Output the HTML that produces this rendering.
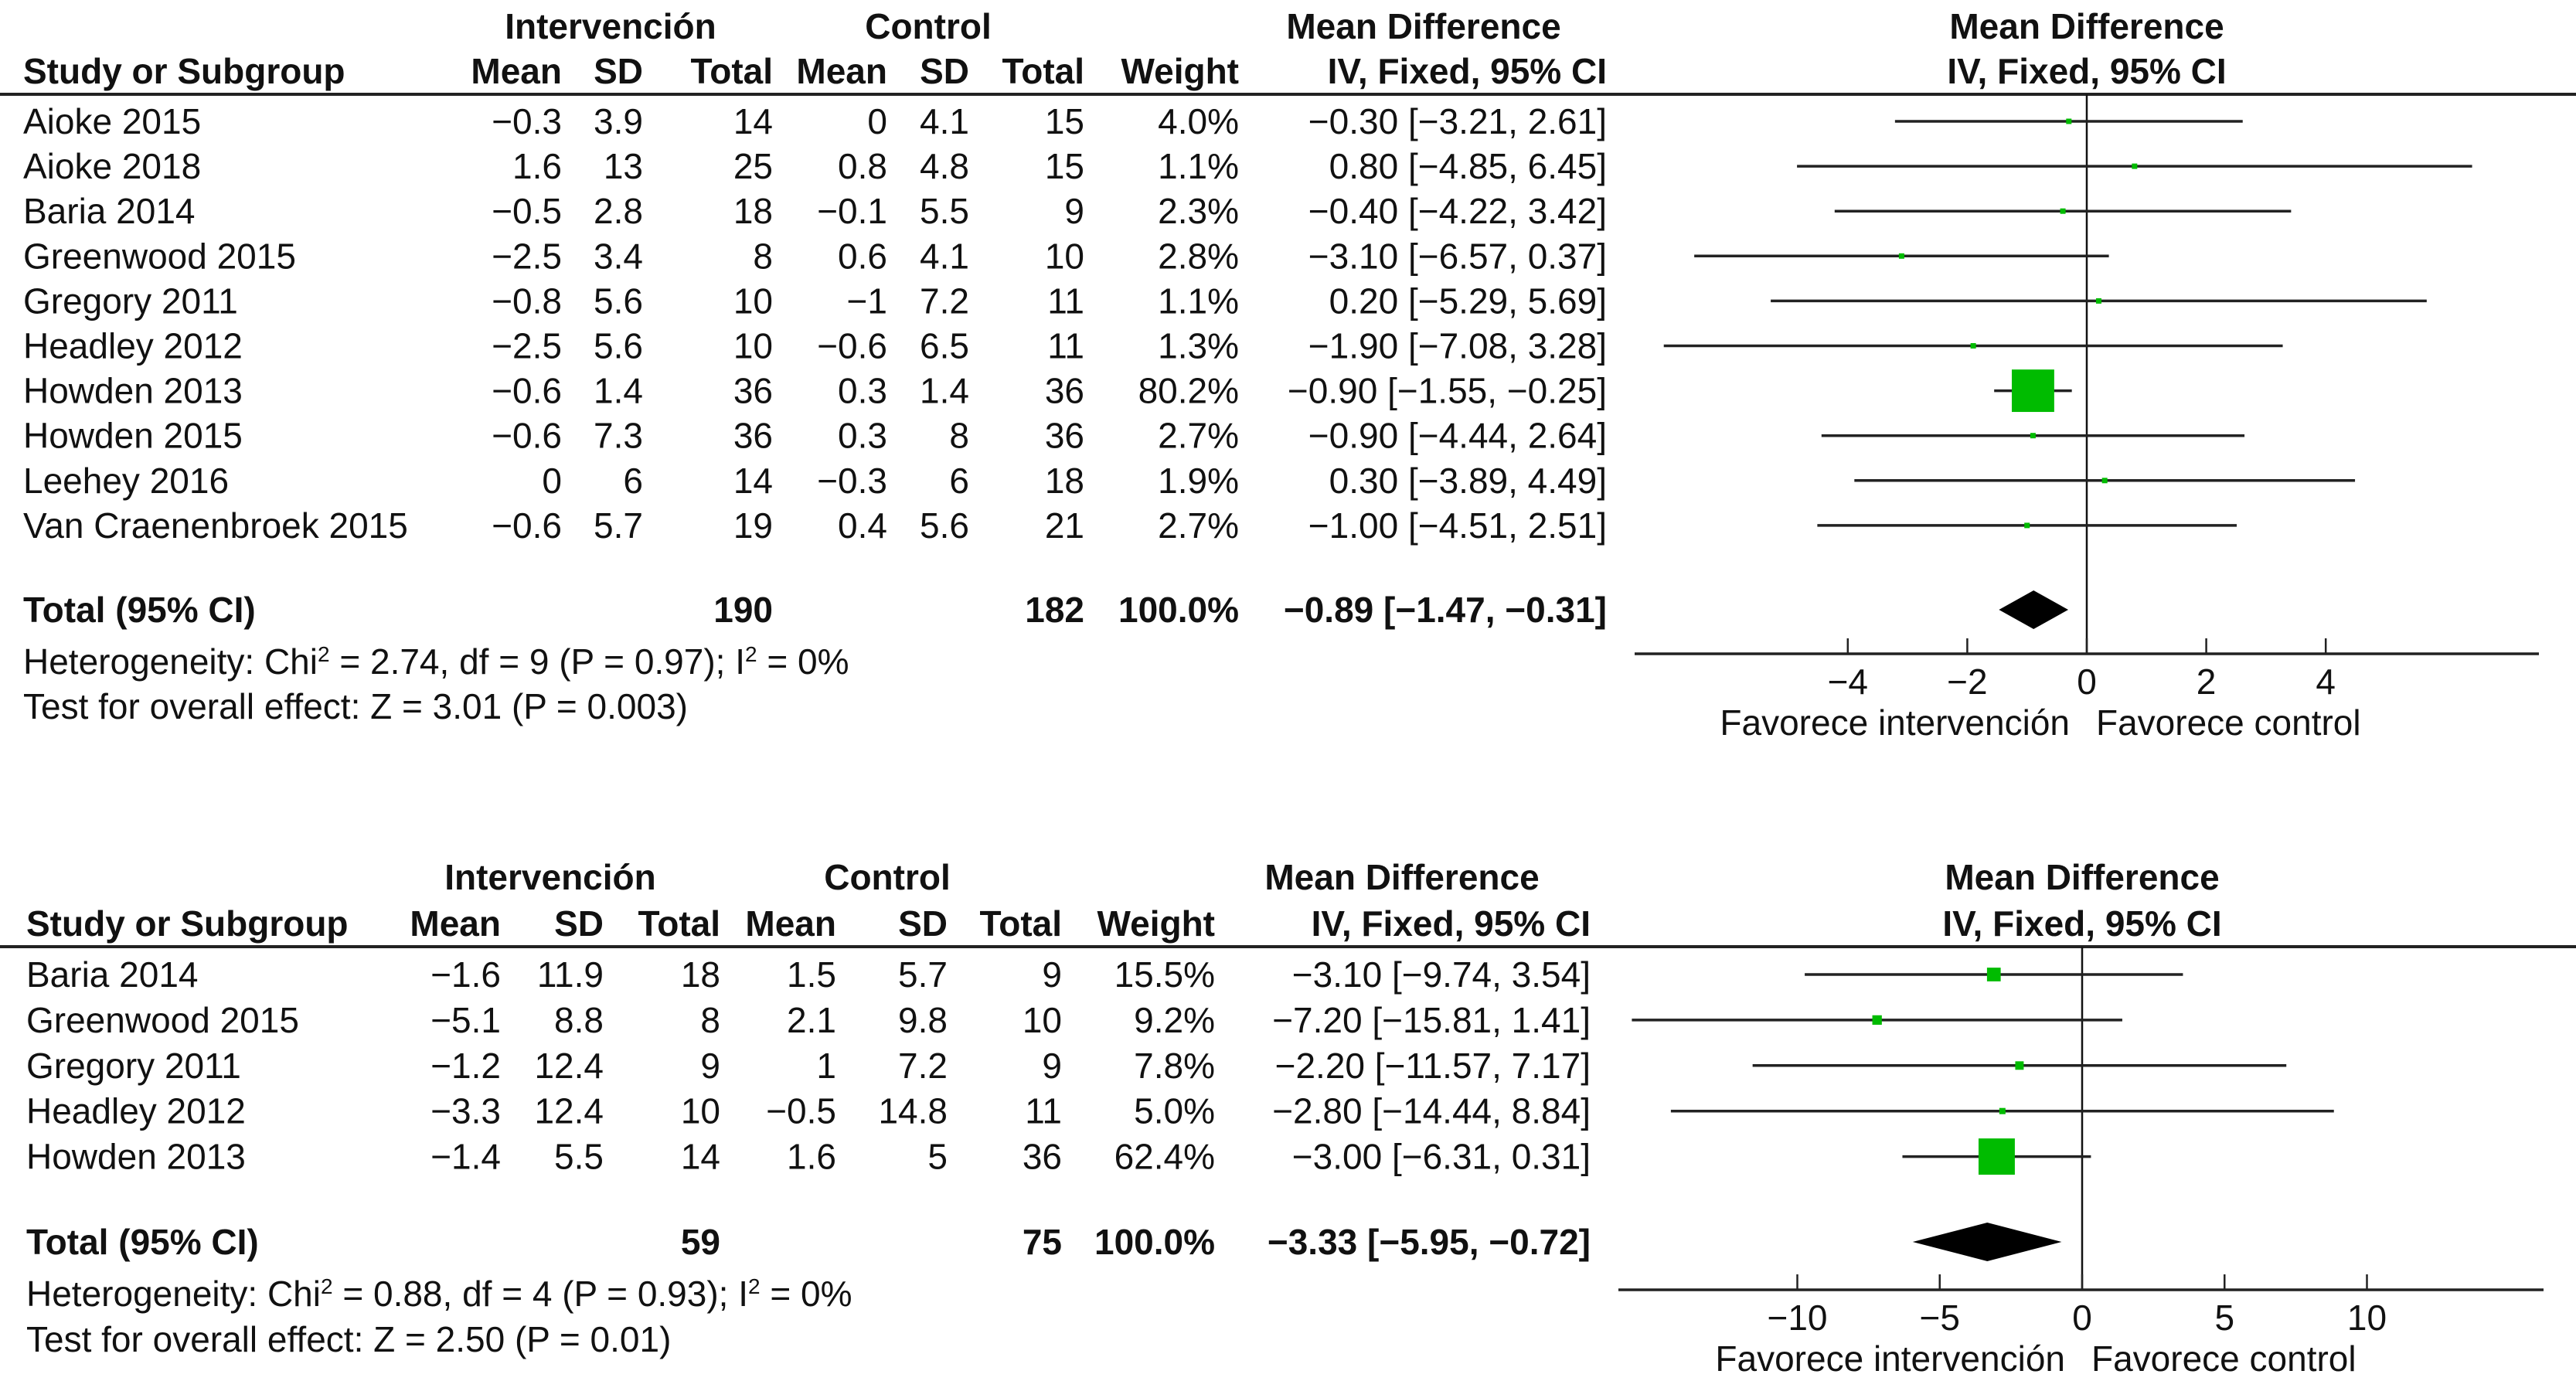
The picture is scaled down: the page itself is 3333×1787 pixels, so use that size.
<!DOCTYPE html>
<html><head><meta charset="utf-8">
<style>
html,body{margin:0;padding:0;background:#fff;}
svg{display:block;}
text{font-family:"Liberation Sans",sans-serif;font-size:46px;fill:#111;}
.b{font-weight:bold;}
</style></head>
<body>
<svg id="chart" width="3333" height="1787" viewBox="0 0 3333 1787" xmlns="http://www.w3.org/2000/svg"></svg>
<script>
// ---- Panel 1 data ----
const p1Studies = ["Aioke 2015","Aioke 2018","Baria 2014","Greenwood 2015","Gregory 2011","Headley 2012","Howden 2013","Howden 2015","Leehey 2016","Van Craenenbroek 2015"];
const p1IntMean = ["−0.3","1.6","−0.5","−2.5","−0.8","−2.5","−0.6","−0.6","0","−0.6"];
const p1IntSD = ["3.9","13","2.8","3.4","5.6","5.6","1.4","7.3","6","5.7"];
const p1IntN = ["14","25","18","8","10","10","36","36","14","19"];
const p1CtlMean = ["0","0.8","−0.1","0.6","−1","−0.6","0.3","0.3","−0.3","0.4"];
const p1CtlSD = ["4.1","4.8","5.5","4.1","7.2","6.5","1.4","8","6","5.6"];
const p1CtlN = ["15","15","9","10","11","11","36","36","18","21"];
const p1Weight = [4.0,1.1,2.3,2.8,1.1,1.3,80.2,2.7,1.9,2.7];
const p1MD = [-0.30,0.80,-0.40,-3.10,0.20,-1.90,-0.90,-0.90,0.30,-1.00];
const p1Lo = [-3.21,-4.85,-4.22,-6.57,-5.29,-7.08,-1.55,-4.44,-3.89,-4.51];
const p1Hi = [2.61,6.45,3.42,0.37,5.69,3.28,-0.25,2.64,4.49,2.51];
const p1Total = {n1:"190",n2:"182",md:-0.89,lo:-1.47,hi:-0.31};
const p1Ticks = [-4,-2,0,2,4];
const p1TickLabels = ["−4","−2","0","2","4"];
const p1Het = ["2.74","9","0.97","0%"];
const p1Test = ["3.01","0.003"];

// ---- Panel 2 data ----
const p2Studies = ["Baria 2014","Greenwood 2015","Gregory 2011","Headley 2012","Howden 2013"];
const p2IntMean = ["−1.6","−5.1","−1.2","−3.3","−1.4"];
const p2IntSD = ["11.9","8.8","12.4","12.4","5.5"];
const p2IntN = ["18","8","9","10","14"];
const p2CtlMean = ["1.5","2.1","1","−0.5","1.6"];
const p2CtlSD = ["5.7","9.8","7.2","14.8","5"];
const p2CtlN = ["9","10","9","11","36"];
const p2Weight = [15.5,9.2,7.8,5.0,62.4];
const p2MD = [-3.10,-7.20,-2.20,-2.80,-3.00];
const p2Lo = [-9.74,-15.81,-11.57,-14.44,-6.31];
const p2Hi = [3.54,1.41,7.17,8.84,0.31];
const p2Total = {n1:"59",n2:"75",md:-3.33,lo:-5.95,hi:-0.72};
const p2Ticks = [-10,-5,0,5,10];
const p2TickLabels = ["−10","−5","0","5","10"];
const p2Het = ["0.88","4","0.93","0%"];
const p2Test = ["2.50","0.01"];

const svg = document.getElementById('chart');
const NS = "http://www.w3.org/2000/svg";
function mk(tag, attrs, parent){
  const e = document.createElementNS(NS, tag);
  for (const k in attrs) e.setAttribute(k, attrs[k]);
  (parent||svg).appendChild(e);
  return e;
}
function txt(x,y,s,anchor,cls,name,parent){
  const t = mk('text',{x:x,y:y,'text-anchor':anchor||'start'},parent);
  if(cls) t.setAttribute('class',cls);
  
  
  t.textContent = s;
  return t;
}
function fmt(v){ return (v<0?"−":"")+Math.abs(v).toFixed(2); }

function panel(cfg){
  const g = mk('g',{});
  
  
  const base = 16;
  const c = cfg.cols;
  txt(c.intC, cfg.hy1+base, "Intervención", 'middle','b','intervention-header',g);
  txt(c.ctlC, cfg.hy1+base, "Control", 'middle','b','control-header',g);
  txt(c.mdC, cfg.hy1+base, "Mean Difference", 'middle','b','mean-difference-header',g);
  txt(cfg.x0, cfg.hy1+base, "Mean Difference", 'middle','b','plot-header',g);
  txt(c.study, cfg.hy2+base, "Study or Subgroup", 'start','b','study-header',g);
  txt(c.m1, cfg.hy2+base, "Mean", 'end','b','int-mean-header',g);
  txt(c.s1, cfg.hy2+base, "SD", 'end','b','int-sd-header',g);
  txt(c.n1, cfg.hy2+base, "Total", 'end','b','int-total-header',g);
  txt(c.m2, cfg.hy2+base, "Mean", 'end','b','ctl-mean-header',g);
  txt(c.s2, cfg.hy2+base, "SD", 'end','b','ctl-sd-header',g);
  txt(c.n2, cfg.hy2+base, "Total", 'end','b','ctl-total-header',g);
  txt(c.w, cfg.hy2+base, "Weight", 'end','b','weight-header',g);
  txt(c.ci, cfg.hy2+base, "IV, Fixed, 95% CI", 'end','b','ci-header',g);
  txt(cfg.x0, cfg.hy2+base, "IV, Fixed, 95% CI", 'middle','b','plot-subheader',g);
  const hl = mk('line',{x1:0,x2:3333,y1:cfg.line,y2:cfg.line,stroke:'#222','stroke-width':4},g);
  
  

  const X = v => cfg.x0 + v*cfg.unit;
  const zl = mk('line',{x1:X(0),x2:X(0),y1:cfg.line,y2:cfg.axisY,stroke:'#111','stroke-width':2.5},g);
  
  

  cfg.studies.forEach((s,i)=>{
    const y = cfg.row0 + i*cfg.rowH;
    txt(c.study, y+base, s,'start','', 'study-name',g);
    txt(c.m1, y+base, cfg.m1[i],'end','', 'int-mean',g);
    txt(c.s1, y+base, cfg.s1[i],'end','', 'int-sd',g);
    txt(c.n1, y+base, cfg.n1[i],'end','', 'int-total',g);
    txt(c.m2, y+base, cfg.m2[i],'end','', 'ctl-mean',g);
    txt(c.s2, y+base, cfg.s2[i],'end','', 'ctl-sd',g);
    txt(c.n2, y+base, cfg.n2[i],'end','', 'ctl-total',g);
    txt(c.w, y+base, cfg.w[i].toFixed(1)+"%",'end','', 'weight',g);
    txt(c.ci, y+base, fmt(cfg.md[i])+" ["+fmt(cfg.lo[i])+", "+fmt(cfg.hi[i])+"]",'end','', 'ci-text',g);
    const ln = mk('line',{x1:X(cfg.lo[i]),x2:X(cfg.hi[i]),y1:y,y2:y,stroke:'#222','stroke-width':3.5},g);
    
    
    const side = Math.max(7, cfg.sq*Math.pow(cfg.w[i],0.7));
    const r = mk('rect',{x:X(cfg.md[i])-side/2,y:y-side/2,width:side,height:side,fill:'#00bb00'},g);
    
    
  });
  const t = cfg.total, ty = cfg.totalY;
  txt(c.study, ty+base, "Total (95% CI)",'start','b','total-label',g);
  txt(c.n1, ty+base, t.n1,'end','b','total-int-n',g);
  txt(c.n2, ty+base, t.n2,'end','b','total-ctl-n',g);
  txt(c.w, ty+base, "100.0%",'end','b','total-weight',g);
  txt(c.ci, ty+base, fmt(t.md)+" ["+fmt(t.lo)+", "+fmt(t.hi)+"]",'end','b','total-ci',g);
  const d = mk('polygon',{points:`${X(t.lo)},${ty} ${X(t.md)},${ty-25} ${X(t.hi)},${ty} ${X(t.md)},${ty+25}`,fill:'#000'},g);
  
  
  const h = cfg.het;
  const het = txt(c.study, cfg.hetY+base, "",'start','', 'heterogeneity-text',g);
  het.innerHTML = `Heterogeneity: Chi<tspan dy="-16" font-size="28">2</tspan><tspan dy="16"> = ${h[0]}, df = ${h[1]} (P = ${h[2]}); I</tspan><tspan dy="-16" font-size="28">2</tspan><tspan dy="16"> = ${h[3]}</tspan>`;
  txt(c.study, cfg.testY+base, `Test for overall effect: Z = ${cfg.test[0]} (P = ${cfg.test[1]})`,'start','', 'overall-effect-text',g);
  const ax = mk('line',{x1:cfg.axX1,x2:cfg.axX2,y1:cfg.axisY,y2:cfg.axisY,stroke:'#222','stroke-width':3.5},g);
  
  
  cfg.ticks.forEach((v,i)=>{
    const tk = mk('line',{x1:X(v),x2:X(v),y1:cfg.axisY-20,y2:cfg.axisY,stroke:'#222','stroke-width':2.5},g);
    
    
    txt(X(v), cfg.axisY+52, cfg.tickLabels[i],'middle','', 'x-tick-label',g);
  });
  txt(X(0)-22, cfg.favY+base, "Favorece intervención",'end','', 'favours-intervention-label',g);
  txt(X(0)+12, cfg.favY+base, "Favorece control",'start','', 'favours-control-label',g);
}

panel({name:'forest-panel-1', hy1:34, hy2:92, line:122, row0:157, rowH:58.1,
  cols:{study:30,m1:727,s1:832,n1:1000,m2:1148,s2:1254,n2:1403,w:1603,ci:2079,intC:790,ctlC:1201,mdC:1842},
  x0:2700, unit:77.3, axisY:846, axX1:2115, axX2:3285, favY:935, totalY:789, hetY:856, testY:914, sq:2.55,
  studies:p1Studies,m1:p1IntMean,s1:p1IntSD,n1:p1IntN,m2:p1CtlMean,s2:p1CtlSD,n2:p1CtlN,w:p1Weight,md:p1MD,lo:p1Lo,hi:p1Hi,
  total:p1Total, ticks:p1Ticks, tickLabels:p1TickLabels, het:p1Het, test:p1Test});

panel({name:'forest-panel-2', hy1:1135, hy2:1195, line:1225, row0:1261, rowH:58.9,
  cols:{study:34,m1:648,s1:781,n1:932,m2:1082,s2:1226,n2:1374,w:1572,ci:2058,intC:712,ctlC:1148,mdC:1814},
  x0:2694, unit:36.85, axisY:1669, axX1:2094, axX2:3291, favY:1758, totalY:1607, hetY:1674, testY:1733, sq:2.6,
  studies:p2Studies,m1:p2IntMean,s1:p2IntSD,n1:p2IntN,m2:p2CtlMean,s2:p2CtlSD,n2:p2CtlN,w:p2Weight,md:p2MD,lo:p2Lo,hi:p2Hi,
  total:p2Total, ticks:p2Ticks, tickLabels:p2TickLabels, het:p2Het, test:p2Test});
</script>
</body></html>
